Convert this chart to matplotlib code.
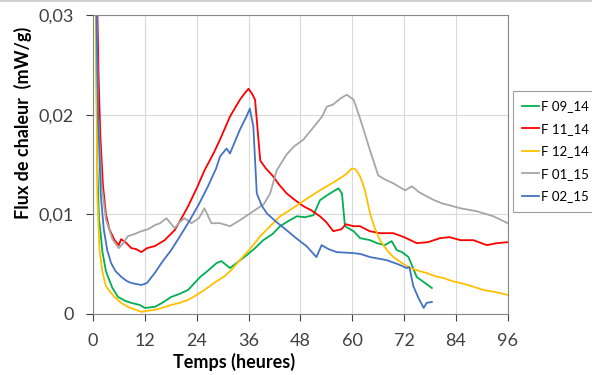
import matplotlib.pyplot as plt
from matplotlib.ticker import FuncFormatter

# hours / heat flux (mW/g)
f0914_t = [0.7, 1.0, 1.4, 1.6, 2.2, 3.0, 3.5, 4.5, 5.8, 7.5, 8.9, 10.8, 12.0, 14.3, 16.0, 18.1, 20.0,
           22.0, 24.8, 26.5, 28.6, 29.7, 31.7, 33.5, 35.6, 37.5, 39.4, 41.5, 43.3, 45.5, 47.2, 49.0,
           51.0, 52.5, 54.5, 56.8, 57.6, 58.3, 60.3, 61.8, 64.1, 65.7, 67.5, 69.1, 70.3, 71.5, 73.0,
           74.9, 76.5, 78.4]
f0914_v = [0.031, 0.015, 0.0095, 0.0088, 0.0062, 0.0043, 0.0037, 0.0026, 0.0017, 0.0013, 0.0011,
           0.0009, 0.0006, 0.0007, 0.0011, 0.0017, 0.0020, 0.0024, 0.0037, 0.0043, 0.0051, 0.0053,
           0.0046, 0.0052, 0.0059, 0.0066, 0.0074, 0.0080, 0.0088, 0.0094, 0.0098, 0.0097, 0.0099,
           0.0114, 0.0120, 0.0126, 0.0121, 0.0088, 0.0083, 0.0076, 0.0074, 0.0071, 0.0069, 0.0073,
           0.0064, 0.0062, 0.0057, 0.0037, 0.0032, 0.0026]

f1114_t = [1.0, 1.3, 1.7, 2.3, 3.0, 3.8, 5.0, 6.0, 6.5, 7.5, 8.9, 10.0, 11.2, 12.5, 14.3, 16.6, 17.5,
           18.9, 20.5, 22.0, 24.0, 25.8, 28.0, 29.4, 31.7, 34.0, 35.2, 36.0, 36.8, 37.5, 38.7, 40.0,
           41.7, 43.0, 44.8, 46.5, 48.7, 50.5, 52.5, 54.0, 55.6, 57.5, 58.5, 60.3, 61.8, 64.0, 66.4,
           69.5, 72.0, 74.9, 77.5, 80.3, 82.5, 85.0, 88.0, 91.1, 93.5, 96.0]
f1114_v = [0.031, 0.024, 0.018, 0.013, 0.010, 0.0085, 0.0074, 0.0069, 0.0075, 0.0072, 0.0066,
           0.0065, 0.0062, 0.0066, 0.0068, 0.0074, 0.0078, 0.0084, 0.0096, 0.0108, 0.0126, 0.0144,
           0.0162, 0.0175, 0.0198, 0.0215, 0.0222, 0.0226, 0.0221, 0.0215, 0.0154, 0.0146, 0.0138,
           0.0130, 0.0121, 0.0115, 0.0108, 0.0104, 0.0098, 0.0092, 0.0083, 0.0085, 0.0090, 0.0088,
           0.0088, 0.0083, 0.0081, 0.0081, 0.0077, 0.0071, 0.0072, 0.0076, 0.0077, 0.0074, 0.0074,
           0.0069, 0.0071, 0.0072]

f1214_t = [0.7, 1.0, 1.5, 2.2, 3.0, 4.0, 5.0, 6.5, 8.1, 10.0, 11.2, 12.5, 14.3, 16.0, 18.1, 20.0,
           22.0, 24.0, 25.8, 28.0, 30.5, 32.0, 34.0, 36.5, 38.7, 41.0, 43.3, 45.5, 47.9, 50.0, 52.5,
           54.5, 56.4, 58.5, 59.9, 60.8, 61.8, 62.8, 64.1, 65.2, 66.4, 68.0, 69.5, 71.5, 73.4, 75.5,
           77.2, 79.0, 81.1, 83.0, 85.0, 87.5, 90.3, 93.0, 96.0]
f1214_v = [0.031, 0.012, 0.0065, 0.0042, 0.0028, 0.0022, 0.0017, 0.0011, 0.0007, 0.0004, 0.0002,
           0.0003, 0.0004, 0.0006, 0.0009, 0.0011, 0.0014, 0.0019, 0.0024, 0.0031, 0.0038, 0.0044,
           0.0054, 0.0066, 0.0078, 0.0088, 0.0098, 0.0104, 0.0111, 0.0117, 0.0124, 0.0129, 0.0134,
           0.0140, 0.0146, 0.0145, 0.0138, 0.0126, 0.0101, 0.0086, 0.0074, 0.0064, 0.0057, 0.0051,
           0.0046, 0.0043, 0.0041, 0.0038, 0.0036, 0.0033, 0.0031, 0.0028, 0.0024, 0.0022, 0.0019]

f0115_t = [0.8, 1.2, 2.0, 3.0, 4.5, 6.0, 7.0, 8.1, 9.5, 11.2, 12.8, 14.3, 15.5, 17.0, 18.9, 20.0,
           21.2, 22.8, 24.5, 25.8, 27.4, 29.4, 31.7, 34.0, 37.1, 39.5, 41.0, 42.5, 44.8, 46.5, 48.7,
           50.0, 51.7, 53.0, 54.1, 55.5, 57.2, 58.7, 60.3, 61.5, 62.6, 64.1, 66.0, 67.5, 69.5, 72.2,
           73.8, 75.5, 77.2, 79.0, 80.7, 82.5, 85.0, 88.8, 92.6, 96.0]
f0115_v = [0.031, 0.020, 0.013, 0.0095, 0.0075, 0.0066, 0.0071, 0.0078, 0.0080, 0.0083, 0.0085,
           0.0089, 0.0091, 0.0096, 0.0086, 0.0092, 0.0096, 0.0091, 0.0096, 0.0106, 0.0091, 0.0091,
           0.0088, 0.0094, 0.0103, 0.0110, 0.0121, 0.0144, 0.0160, 0.0168, 0.0175, 0.0182, 0.0191,
           0.0198, 0.0208, 0.0210, 0.0216, 0.0220, 0.0215, 0.0200, 0.0185, 0.0164, 0.0139, 0.0135,
           0.0131, 0.0124, 0.0128, 0.0122, 0.0118, 0.0114, 0.0111, 0.0109, 0.0106, 0.0103, 0.0098,
           0.0091]

f0215_t = [0.8, 1.2, 1.8, 2.5, 3.3, 4.2, 5.2, 6.6, 7.8, 8.9, 10.0, 11.2, 12.5, 14.3, 16.0, 18.1, 20.0,
           22.0, 24.5, 26.6, 28.5, 29.4, 30.9, 31.7, 34.0, 35.5, 36.3, 37.1, 37.9, 39.0, 40.2, 42.5,
           44.8, 47.0, 49.4, 51.7, 52.9, 54.5, 56.4, 60.3, 62.0, 64.1, 67.9, 70.5, 72.6, 73.2, 74.1,
           75.3, 76.5, 77.2, 78.4]
f0215_v = [0.031, 0.020, 0.012, 0.0085, 0.0064, 0.0051, 0.0043, 0.0037, 0.0033, 0.0031, 0.0030,
           0.0029, 0.0031, 0.0041, 0.0052, 0.0064, 0.0077, 0.0091, 0.0110, 0.0128, 0.0146, 0.0158,
           0.0166, 0.0161, 0.0185, 0.0198, 0.0206, 0.0188, 0.0121, 0.0109, 0.0101, 0.0092, 0.0084,
           0.0076, 0.0068, 0.0057, 0.0069, 0.0065, 0.0062, 0.0061, 0.0060, 0.0057, 0.0054, 0.0050,
           0.0046, 0.0047, 0.0028, 0.0016, 0.0006, 0.0011, 0.0012]

labels = ["F 09_14", "F 11_14", "F 12_14", "F 01_15", "F 02_15"]
colors = ["#00b050", "#ff0000", "#ffc000", "#a6a6a6", "#4472c4"]
xticks = [0, 12, 24, 36, 48, 60, 72, 84, 96]
yticks = [0, 0.01, 0.02, 0.03]

series = [(f0914_t, f0914_v), (f1114_t, f1114_v), (f1214_t, f1214_v),
          (f0115_t, f0115_v), (f0215_t, f0215_v)]

plt.rcParams['font.family'] = ['Lato', 'DejaVu Sans']

fig = plt.figure(figsize=(5.92, 3.75), dpi=100)
ax = fig.add_axes([0.157, 0.163, 0.701, 0.797])

for (t, v), lab, col in zip(series, labels, colors):
    ax.plot(t, v, color=col, lw=1.3, label=lab)

ax.set_xlim(0, 96)
ax.set_ylim(0, 0.03)
ax.set_xticks(xticks)
ax.set_yticks(yticks)
ax.yaxis.set_major_formatter(FuncFormatter(lambda y, p: "0" if y == 0 else f"{y:.2f}".replace(".", ",")))
ax.tick_params(axis='both', labelsize=13, colors='#404040', length=5, width=0.8)
ax.tick_params(axis='x', pad=9)
ax.tick_params(axis='y', pad=9)
ax.grid(True, color='#d9d9d9', lw=0.8)
ax.set_axisbelow(True)
for s in ax.spines.values():
    s.set_color('#868686')
    s.set_linewidth(0.8)

ax.set_xlabel("Temps (heures)", fontsize=13, fontweight='bold')
ax.xaxis.set_label_coords(0.34, -0.13)
ax.set_ylabel("Flux de chaleur  (mW/g)", fontsize=13, fontweight='bold')
ax.yaxis.set_label_coords(-0.147, 0.64)

leg = ax.legend(loc='upper left', bbox_to_anchor=(1.012, 0.746), fontsize=9.5, frameon=True,
                fancybox=False, edgecolor='#868686', handlelength=1.3, handletextpad=0.1,
                labelspacing=0.8, borderpad=0.7, borderaxespad=0)
leg.get_frame().set_linewidth(0.8)

fig.add_artist(plt.Line2D([0, 1], [0.997, 0.997], color='#d0d0d0', lw=1.5))

fig.savefig("out.png", dpi=100)
